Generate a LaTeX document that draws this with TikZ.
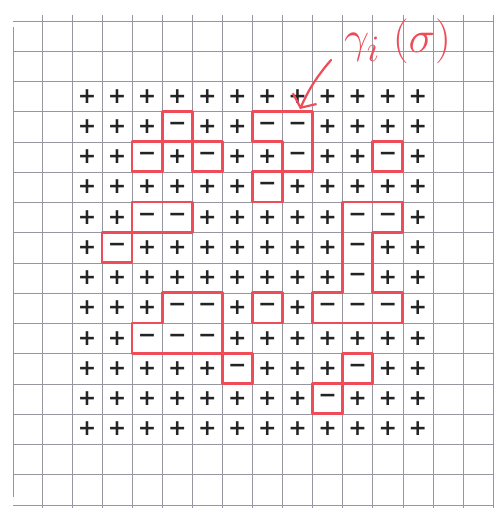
\documentclass[tikz,border=0pt]{standalone}
\usepackage{graphicx}
\usepackage{fontspec}
\newfontfamily\signfont{DejaVu Sans}
\usetikzlibrary{arrows.meta}
\definecolor{redpen}{RGB}{238,76,88}
\definecolor{gridline}{RGB}{150,150,160}
\definecolor{ink}{RGB}{35,35,38}
\def\minuscells{3/1,6/1,7/1,2/2,4/2,7/2,10/2,6/3,2/4,3/4,9/4,10/4,1/5,9/5,9/6,3/7,4/7,6/7,8/7,9/7,10/7,2/8,3/8,4/8,5/9,9/9,8/10}
\tikzset{
  gridln/.style={draw=gridline, line width=0.65pt},
  contour/.style={draw=redpen, line width=2.6pt, line join=round, line cap=round},
  sgn/.style={font=\signfont\bfseries\fontsize{22}{22}\selectfont, text=ink, inner sep=0pt},
  pointer/.style={draw=redpen, line width=2.2pt, line cap=round, -{Straight Barb[length=10pt,width=26pt]}},
  penlabel/.style={text=redpen, inner sep=0pt, font=\Huge},
}
\begin{document}
\begin{tikzpicture}[x=1pt,y=-1pt]
\fill[white] (0,0) rectangle (501,517);
\useasboundingbox (0,0) rectangle (501,517);
% grid paper
\foreach \k in {0,...,16} \draw[gridln] (13,{21+30.25*\k}) -- (493,{21+30.25*\k});
\foreach \k in {0,...,15} \draw[gridln] ({42+30.07*\k},15) -- ({42+30.07*\k},508);
\draw[gridln] (13,27) -- (13,497);
% spins
\begin{scope}[shift={(72,81)}, x=30.07pt, y=-30.25pt]
  \foreach \c/\r in \minuscells {\expandafter\gdef\csname m-\c-\r\endcsname{}}
  \foreach \c in {0,...,11} {
    \foreach \r in {0,...,11} {
      \ifcsname m-\c-\r\endcsname
        \node[sgn] (s-\c-\r) at (\c+0.5,\r+0.5) {−};
      \else
        \node[sgn] (s-\c-\r) at (\c+0.5,\r+0.5) {+};
      \fi
    }
  }
  % contours
  \draw[contour] (3,1) rectangle (4,2);
  \draw[contour] (2,2) rectangle (3,3);
  \draw[contour] (4,2) rectangle (5,3);
  \draw[contour] (6,1) -- (8,1) -- (8,3) -- (7,3) -- (7,2) -- (6,2) -- cycle;
  \draw[contour] (6,3) rectangle (7,4);
  \draw[contour] (10,2) rectangle (11,3);
  \draw[contour] (2,4) rectangle (4,5);
  \draw[contour] (1,5) rectangle (2,6);
  \draw[contour] (9,4) -- (11,4) -- (11,5) -- (10,5) -- (10,7) -- (11,7) -- (11,8) -- (8,8) -- (8,7) -- (9,7) -- cycle;
  \draw[contour] (6,7) rectangle (7,8);
  \draw[contour] (3,7) -- (5,7) -- (5,9) -- (2,9) -- (2,8) -- (3,8) -- cycle;
  \draw[contour] (5,9) rectangle (6,10);
  \draw[contour] (9,9) rectangle (10,10);
  \draw[contour] (8,10) rectangle (9,11);
\end{scope}
% label and pointer
\node[penlabel, anchor=base west] (lab) at (344,52) {\scalebox{1.8}{$\gamma_{i}\;(\sigma)$}};
\coordinate (arrowtail) at (331,60);
\coordinate (arrowtip) at (300,109);
\draw[pointer] (arrowtail) to[bend right=8] (arrowtip);
\end{tikzpicture}
\end{document}
